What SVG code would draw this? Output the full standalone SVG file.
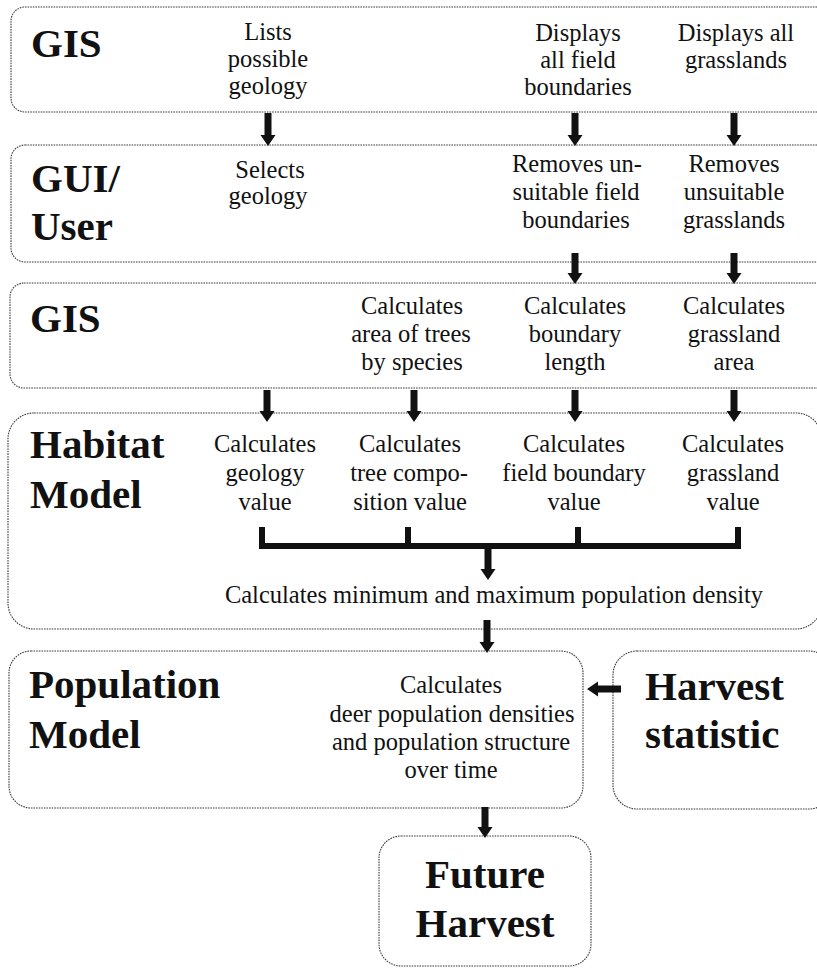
<svg xmlns="http://www.w3.org/2000/svg" width="817" height="968" viewBox="0 0 817 968">
<style>
.box{fill:#fff;stroke:#3a3a3a;stroke-width:1.1;stroke-dasharray:1.6 1}
.t{font-family:"Liberation Serif","Times New Roman",serif;font-size:24.5px;fill:#111;text-anchor:middle}
.h{font-family:"Liberation Serif","Times New Roman",serif;font-size:41px;font-weight:bold;fill:#111}
.hc{text-anchor:middle}
.arr{fill:#111;stroke:none}
.br{fill:none;stroke:#111;stroke-width:6}
</style>
<rect width="817" height="968" fill="#fff"/>
<g id="gis1">
<rect class="box" x="11" y="7" width="820" height="105" rx="14"/>
<text class="h" x="31" y="57">GIS</text>
<text class="t" x="268" y="40">Lists</text>
<text class="t" x="268" y="67">possible</text>
<text class="t" x="268" y="94">geology</text>
<text class="t" x="578" y="41">Displays</text>
<text class="t" x="578" y="68">all field</text>
<text class="t" x="578" y="95">boundaries</text>
<text class="t" x="736" y="41">Displays all</text>
<text class="t" x="736" y="68">grasslands</text>
</g>
<g id="gui">
<rect class="box" x="11" y="145" width="820" height="117" rx="14"/>
<text class="h" x="31" y="192">GUI/</text>
<text class="h" x="31" y="240">User</text>
<text class="t" x="270" y="178">Selects</text>
<text class="t" x="268" y="204">geology</text>
<text class="t" x="577" y="172">Removes un-</text>
<text class="t" x="576" y="200">suitable field</text>
<text class="t" x="576" y="228">boundaries</text>
<text class="t" x="734" y="172">Removes</text>
<text class="t" x="734" y="200">unsuitable</text>
<text class="t" x="734" y="228">grasslands</text>
</g>
<g id="gis2">
<rect class="box" x="10" y="283" width="821" height="105" rx="14"/>
<text class="h" x="30" y="332">GIS</text>
<text class="t" x="412" y="314">Calculates</text>
<text class="t" x="411" y="342">area of trees</text>
<text class="t" x="412" y="370">by species</text>
<text class="t" x="575" y="314">Calculates</text>
<text class="t" x="575" y="342">boundary</text>
<text class="t" x="575" y="370">length</text>
<text class="t" x="734" y="314">Calculates</text>
<text class="t" x="734" y="342">grassland</text>
<text class="t" x="734" y="370">area</text>
</g>
<g id="habitat">
<rect class="box" x="8" y="413" width="814" height="216" rx="26"/>
<text class="h" x="30" y="458">Habitat</text>
<text class="h" x="30" y="508">Model</text>
<text class="t" x="265" y="452">Calculates</text>
<text class="t" x="265" y="481">geology</text>
<text class="t" x="265" y="510">value</text>
<text class="t" x="410" y="452">Calculates</text>
<text class="t" x="409" y="481">tree compo-</text>
<text class="t" x="410" y="510">sition value</text>
<text class="t" x="574" y="452">Calculates</text>
<text class="t" x="574" y="481">field boundary</text>
<text class="t" x="574" y="510">value</text>
<text class="t" x="733" y="452">Calculates</text>
<text class="t" x="733" y="481">grassland</text>
<text class="t" x="733" y="510">value</text>
<text class="t" x="494" y="603">Calculates minimum and maximum population density</text>
</g>
<g id="population">
<rect class="box" x="9" y="651" width="574" height="157" rx="22"/>
<text class="h" x="29" y="698">Population</text>
<text class="h" x="29" y="748">Model</text>
<text class="t" x="451" y="693">Calculates</text>
<text class="t" x="452" y="722">deer population densities</text>
<text class="t" x="451" y="750">and population structure</text>
<text class="t" x="451" y="778">over time</text>
</g>
<g id="harvest-statistic">
<rect class="box" x="613" y="651" width="220" height="158" rx="24"/>
<text class="h" x="645" y="700">Harvest</text>
<text class="h" x="645" y="748">statistic</text>
</g>
<g id="future-harvest">
<rect class="box" x="379" y="836" width="212" height="130" rx="22"/>
<text class="h hc" x="485" y="888">Future</text>
<text class="h hc" x="485" y="937">Harvest</text>
</g>
<g id="connectors">
<path class="arr" d="M264.5 113H271.5V135H275.5L268 146L260.5 135H264.5Z"/>
<path class="arr" d="M571.5 113H578.5V135H582.5L575 146L567.5 135H571.5Z"/>
<path class="arr" d="M730.5 113H737.5V135H741.5L734 146L726.5 135H730.5Z"/>
<path class="arr" d="M571.5 253H578.5V273H582.5L575 284L567.5 273H571.5Z"/>
<path class="arr" d="M730.5 253H737.5V273H741.5L734 284L726.5 273H730.5Z"/>
<path class="arr" d="M263.5 390H270.5V411H274.5L267 422L259.5 411H263.5Z"/>
<path class="arr" d="M410.5 390H417.5V411H421.5L414 422L406.5 411H410.5Z"/>
<path class="arr" d="M571.5 390H578.5V411H582.5L575 422L567.5 411H571.5Z"/>
<path class="arr" d="M730.5 390H737.5V411H741.5L734 422L726.5 411H730.5Z"/>
<path class="br" d="M262 527V546H738V527M408 527V546M578 527V546"/>
<path class="arr" d="M484.5 546H491.5V569H495.5L488 580L480.5 569H484.5Z"/>
<path class="arr" d="M483.5 620H490.5V642H494.5L487 653L479.5 642H483.5Z"/>
<path class="arr" d="M481.5 807H488.5V827H492.5L485 838L477.5 827H481.5Z"/>
<path class="arr" d="M621 685.5V692.5H598V696.5L587 689L598 681.5V685.5Z"/>
</g>
</svg>
